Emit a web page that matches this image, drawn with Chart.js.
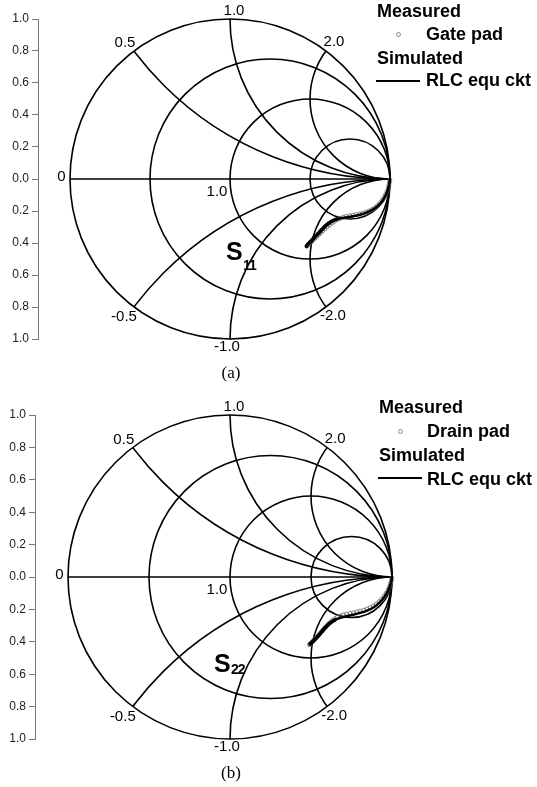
<!DOCTYPE html>
<html>
<head>
<meta charset="utf-8">
<script src="https://cdn.jsdelivr.net/npm/chart.js@4.4.0/dist/chart.umd.min.js"></script>
<style>
  html, body { margin: 0; padding: 0; background: #fff; }
  body { width: 537px; height: 787px; position: relative; overflow: hidden;
         font-family: "Liberation Sans", Arial, sans-serif; color: #000; }
  canvas { position: absolute; left: 0; }
  .lg { position: absolute; white-space: nowrap; font-weight: bold; font-size: 18px; line-height: 20px; }
  .mk { position: absolute; width: 3px; height: 3px; border: 1px solid #888; border-radius: 50%; background: #fff; }
  .ln { position: absolute; height: 1.5px; background: #000; }
  .sS { position: absolute; font-weight: bold; font-size: 25px; line-height: 25px; }
  .sSub { position: absolute; font-weight: bold; font-size: 14px; line-height: 14px; letter-spacing: -1px; }
  .cap { position: absolute; width: 60px; text-align: center; font-family: "Liberation Serif", "Times New Roman", serif;
         font-size: 17px; line-height: 20px; }
</style>
</head>
<body>
<canvas id="chartS11" width="537" height="362" style="top:0px"></canvas>
<canvas id="chartS22" width="537" height="365" style="top:395px"></canvas>

<!-- legend, panel (a) -->
<div class="lg" style="left:377px;top:1px">Measured</div>
<div class="mk" style="left:396px;top:32px"></div>
<div class="lg" style="left:426px;top:24px">Gate pad</div>
<div class="lg" style="left:377px;top:48px">Simulated</div>
<div class="ln" style="left:376px;top:80px;width:44px"></div>
<div class="lg" style="left:426px;top:70px">RLC equ ckt</div>
<div class="sS" style="left:226px;top:239px">S</div>
<div class="sSub" style="left:243px;top:258px">11</div>
<div class="cap" style="left:201px;top:363px">(a)</div>

<!-- legend, panel (b) -->
<div class="lg" style="left:379px;top:397px">Measured</div>
<div class="mk" style="left:398px;top:429px"></div>
<div class="lg" style="left:427px;top:421px">Drain pad</div>
<div class="lg" style="left:379px;top:445px">Simulated</div>
<div class="ln" style="left:378px;top:477px;width:44px"></div>
<div class="lg" style="left:427px;top:469px">RLC equ ckt</div>
<div class="sS" style="left:214px;top:651px">S</div>
<div class="sSub" style="left:231px;top:662px">22</div>
<div class="cap" style="left:201px;top:763px">(b)</div>

<script>
// Y-axis tick labels (reflection coefficient magnitude, bottom to top)
const yTickLabels = ['1.0', '0.8', '0.6', '0.4', '0.2', '0.0', '0.2', '0.4', '0.6', '0.8', '1.0'];

// Smith chart grid: constant-resistance circles and constant-reactance arcs
const resistanceCircles = [1 / 3, 1, 3];
const reactanceArcs = [0.5, 1, 2, -0.5, -1, -2];

// S11, gate pad: measured (Re, Im of reflection coefficient)
const s11MeasRe = [0.999, 0.997, 0.993, 0.988, 0.981, 0.972, 0.962, 0.950, 0.936, 0.921, 0.905, 0.888, 0.870,
                   0.851, 0.831, 0.811, 0.790, 0.769, 0.748, 0.727, 0.707, 0.688, 0.670, 0.653, 0.637, 0.622,
                   0.607, 0.593, 0.580, 0.567, 0.555, 0.543, 0.532, 0.521, 0.510, 0.500, 0.490, 0.481];
const s11MeasIm = [-0.005, -0.020, -0.038, -0.058, -0.078, -0.098, -0.117, -0.135, -0.152, -0.167, -0.180, -0.191, -0.200,
                   -0.207, -0.213, -0.218, -0.222, -0.226, -0.230, -0.234, -0.239, -0.246, -0.254, -0.264, -0.275, -0.287,
                   -0.299, -0.311, -0.323, -0.335, -0.347, -0.358, -0.369, -0.380, -0.390, -0.400, -0.410, -0.419];
// S11, RLC equivalent circuit
const s11SimRe = [1.000, 0.995, 0.985, 0.968, 0.945, 0.915, 0.880, 0.840, 0.795, 0.750, 0.705, 0.665, 0.630,
                  0.600, 0.575, 0.552, 0.530, 0.510, 0.490, 0.478];
const s11SimIm = [0.000, -0.030, -0.070, -0.110, -0.145, -0.175, -0.198, -0.215, -0.228, -0.236, -0.243, -0.252, -0.268,
                  -0.290, -0.315, -0.340, -0.362, -0.385, -0.405, -0.420];

// S22, drain pad: measured
const s22MeasRe = [0.999, 0.996, 0.991, 0.984, 0.975, 0.964, 0.951, 0.936, 0.920, 0.903, 0.885, 0.866, 0.846,
                   0.825, 0.804, 0.783, 0.762, 0.741, 0.720, 0.700, 0.681, 0.663, 0.646, 0.630, 0.615, 0.601,
                   0.588, 0.576, 0.565, 0.554, 0.544, 0.534, 0.524, 0.514, 0.505, 0.497, 0.490];
const s22MeasIm = [-0.006, -0.022, -0.040, -0.060, -0.080, -0.100, -0.119, -0.137, -0.153, -0.167, -0.179, -0.189, -0.198,
                   -0.205, -0.211, -0.216, -0.221, -0.225, -0.229, -0.234, -0.240, -0.248, -0.258, -0.270, -0.283, -0.296,
                   -0.310, -0.324, -0.337, -0.350, -0.362, -0.373, -0.384, -0.394, -0.403, -0.411, -0.418];
// S22, RLC equivalent circuit
const s22SimRe = [1.000, 0.994, 0.983, 0.967, 0.945, 0.918, 0.885, 0.846, 0.803, 0.760, 0.718, 0.680, 0.648,
                  0.620, 0.596, 0.575, 0.556, 0.538, 0.521, 0.506, 0.494];
const s22SimIm = [0.000, -0.030, -0.065, -0.100, -0.133, -0.163, -0.188, -0.207, -0.222, -0.233, -0.242, -0.252, -0.265,
                  -0.283, -0.305, -0.328, -0.350, -0.370, -0.388, -0.403, -0.414];

const toPoints = (re, im) => re.map((v, i) => ({ x: v, y: im[i] }));

// Label placement next to each grid curve (pixel offsets)
const reactanceLabelOffset = { '0.5': [-9, -8], '1': [4, -8], '2': [8, -9], '-0.5': [-10, 10], '-1': [-3, 8], '-2': [7, 9] };

const smithGrid = {
  id: 'smithGrid',
  beforeDatasetsDraw(chart) {
    const { ctx, scales: { x, y } } = chart;
    const px = v => x.getPixelForValue(v);
    const py = v => y.getPixelForValue(v);
    const R = px(1) - px(0);
    const cx = px(0), cy = py(0);
    ctx.save();
    ctx.strokeStyle = '#000';
    ctx.lineWidth = 1.6;
    ctx.beginPath(); ctx.arc(cx, cy, R, 0, 2 * Math.PI); ctx.stroke();
    ctx.beginPath(); ctx.moveTo(px(-1), cy); ctx.lineTo(px(1), cy); ctx.stroke();
    resistanceCircles.forEach(r => {
      ctx.beginPath(); ctx.arc(px(r / (1 + r)), cy, R / (1 + r), 0, 2 * Math.PI); ctx.stroke();
    });
    ctx.save();
    ctx.beginPath(); ctx.arc(cx, cy, R, 0, 2 * Math.PI); ctx.clip();
    reactanceArcs.forEach(xv => {
      ctx.beginPath(); ctx.arc(px(1), py(1 / xv), R / Math.abs(xv), 0, 2 * Math.PI); ctx.stroke();
    });
    ctx.restore();

    ctx.fillStyle = '#000';
    ctx.font = '15px "Liberation Sans", Arial, sans-serif';
    ctx.textAlign = 'center';
    ctx.textBaseline = 'middle';
    reactanceArcs.forEach(xv => {
      const gr = (xv * xv - 1) / (xv * xv + 1), gi = 2 * xv / (xv * xv + 1);
      const off = reactanceLabelOffset[String(xv)];
      ctx.fillText(xv.toFixed(1), px(gr) + off[0], py(gi) + off[1]);
    });
    ctx.fillText('0', px(-1) - 8.5, cy - 2);
    ctx.fillText('1.0', px(0) - 13, cy + 13);
    ctx.restore();
  }
};

function buildSmith(id, meas, sim, geom) {
  const xMin = -(geom.centerX - geom.axisX) / geom.radius;
  return new Chart(document.getElementById(id), {
    type: 'scatter',
    data: {
      datasets: [
        { label: 'RLC equ ckt', data: sim, showLine: true, borderColor: '#000', borderWidth: 2.4,
          pointRadius: 0, tension: 0.3, order: 0, borderCapStyle: 'round',
          // the low-frequency end of the trace is drawn heavier where both curves overlap
          segment: { borderWidth: c => (c.p0.parsed.x < 0.67 ? 3.8 : 2.4) } },
        { label: 'Measured', data: meas, showLine: false, pointRadius: 2, pointBorderWidth: 0.8,
          pointBorderColor: '#666', pointBackgroundColor: 'rgba(255,255,255,0)', order: 1 }
      ]
    },
    options: {
      responsive: false,
      animation: false,
      events: [],
      layout: { padding: { left: 0, top: geom.top, bottom: geom.bottom, right: geom.right } },
      plugins: { legend: { display: false }, tooltip: { enabled: false }, title: { display: false } },
      scales: {
        x: { type: 'linear', display: false, min: xMin, max: xMin + 2.4 },
        y: {
          type: 'linear', position: 'left', min: -1, max: 1,
          afterBuildTicks: s => { s.ticks = yTickLabels.map((_, i) => ({ value: -1 + i * 0.2 })); },
          afterFit: s => { s.width = geom.axisX; },
          ticks: { callback: (v, i) => yTickLabels[i], color: '#222', padding: 3, autoSkip: false,
                   font: { family: '"Liberation Sans", Arial, sans-serif', size: 12 } },
          grid: { drawOnChartArea: false, drawTicks: true, tickLength: 6, color: '#777', lineWidth: 1 },
          border: { display: true, color: '#777', width: 1 }
        }
      }
    },
    plugins: [smithGrid]
  });
}

buildSmith('chartS11', toPoints(s11MeasRe, s11MeasIm), toPoints(s11SimRe, s11SimIm),
           { axisX: 38, centerX: 230, radius: 160, top: 19, bottom: 23, right: 537 - 38 - 160 * 2.4 });
buildSmith('chartS22', toPoints(s22MeasRe, s22MeasIm), toPoints(s22SimRe, s22SimIm),
           { axisX: 35, centerX: 230, radius: 162, top: 20, bottom: 21, right: 537 - 35 - 162 * 2.4 });
</script>
</body>
</html>
